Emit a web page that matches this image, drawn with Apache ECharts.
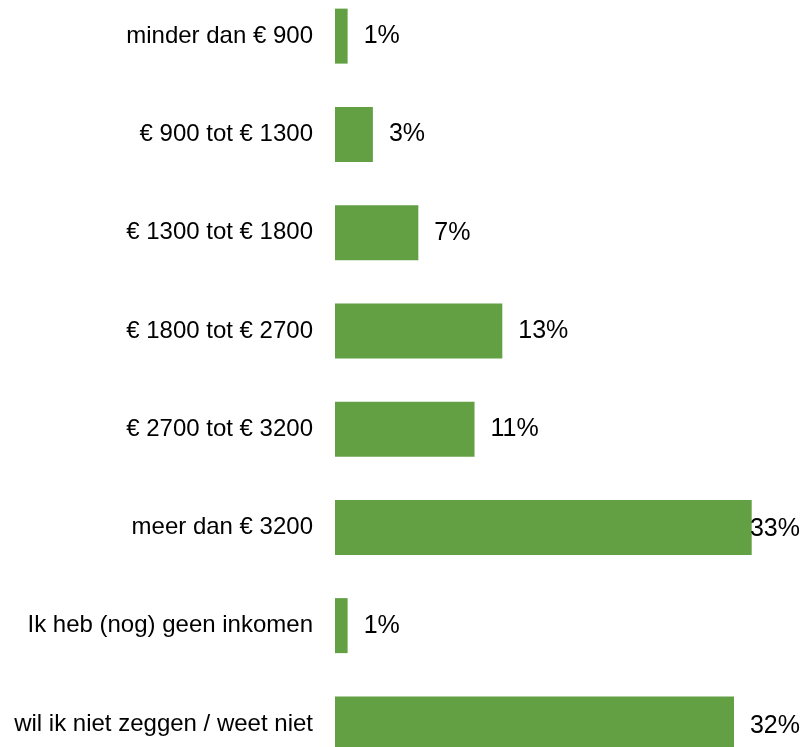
<!DOCTYPE html>
<html>
<head>
<meta charset="utf-8">
<script src="https://cdn.jsdelivr.net/npm/echarts@6/dist/echarts.min.js"></script>
<style>
    html, body { margin: 0; padding: 0; background: #fff; overflow: hidden; }
    body { width: 806px; height: 747px; position: relative; }
    /* bovenste/onderste balk valt deels buiten beeld, zoals in het origineel */
    #chart { position: absolute; left: 0; top: -13px; width: 806px; height: 786px; }
</style>
</head>
<body>
<div id="chart"></div>
<script>
// inkomen categorieen (van boven naar beneden)
var categories = ['minder dan € 900', '€ 900 tot € 1300', '€ 1300 tot € 1800', '€ 1800 tot € 2700',
    '€ 2700 tot € 3200', 'meer dan € 3200', 'Ik heb (nog) geen inkomen', 'wil ik niet zeggen / weet niet'];
var values = [1.0, 3.0, 6.6, 13.25, 11.05, 33.0, 1.0, 31.6];

function incomeChart(divId) {
    var myChart = echarts.init(document.getElementById(divId));
    var chartWidth = myChart.getWidth();
    var option = {
        animation: false,
        grid: {
            top: 0,
            bottom: 0,
            left: 335,
            right: 0
        },
        xAxis: {
            type: 'value',
            min: 0,
            max: 37.3,
            show: false
        },
        yAxis: {
            type: 'category',
            inverse: true,
            data: categories,
            axisLine: { show: false },
            axisTick: { show: false },
            axisLabel: {
                color: '#000',
                fontSize: 24,
                fontFamily: 'Liberation Sans',
                margin: 22,
                padding: [4, 0, 0, 0]
            }
        },
        series: [{
            type: 'bar',
            data: values,
            barWidth: 55,
            itemStyle: {
                color: '#63a044'
            },
            label: {
                show: true,
                position: 'right',
                distance: 16,
                offset: [0, 2],
                color: '#000',
                fontSize: 25,
                fontFamily: 'Liberation Sans',
                formatter: function (p) {
                    return Math.round(p.value) + '%';
                }
            }
        }],
        // label die buiten het beeld valt naar binnen schuiven
        labelLayout: function (params) {
            var r = params.labelRect;
            if (r.x + r.width > chartWidth - 6) {
                return {
                    x: chartWidth - 6 - r.width,
                    y: r.y + r.height / 2,
                    align: 'left',
                    verticalAlign: 'middle'
                };
            }
            return {};
        }
    };
    myChart.setOption(option);
    return myChart;
}

incomeChart('chart');
</script>
</body>
</html>
